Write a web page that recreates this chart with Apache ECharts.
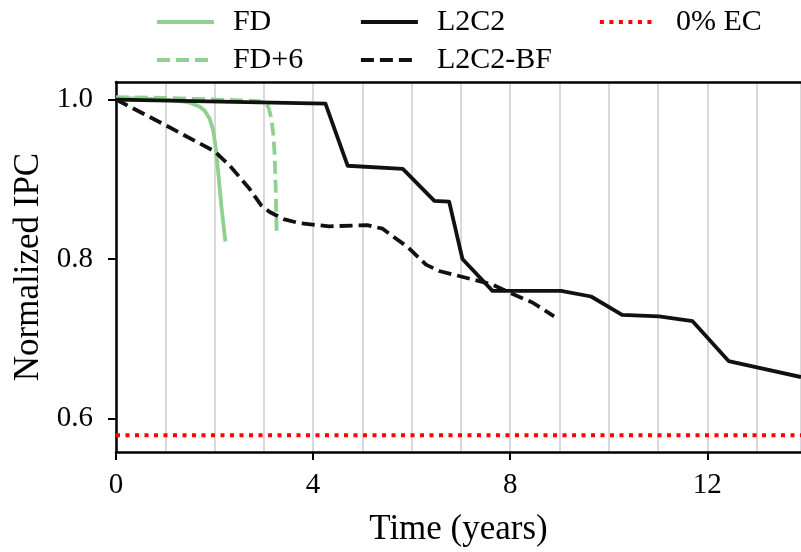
<!DOCTYPE html>
<html><head><meta charset="utf-8">
<script src="https://cdn.jsdelivr.net/npm/echarts@6/dist/echarts.min.js"></script>
<style>html,body{margin:0;padding:0;background:#fff}#c{width:801px;height:552px}</style>
</head><body><div id="c"></div>
<script>
// ---- data ----
const fdTime = [0, 0.5, 1.0, 1.3, 1.5, 1.7, 1.8, 1.9, 1.97, 2.03, 2.08, 2.14, 2.22];
const fdIPC  = [1.002, 1.001, 1.0, 0.998, 0.996, 0.991, 0.986, 0.976, 0.962, 0.937, 0.905, 0.865, 0.822];

const fd6Time = [0, 1.0, 2.0, 2.6, 2.9, 3.05, 3.1, 3.15, 3.19, 3.22, 3.24, 3.26];
const fd6IPC  = [1.003, 1.002, 1.0, 0.999, 0.998, 0.995, 0.989, 0.977, 0.958, 0.93, 0.89, 0.834];

const l2c2Time = [0, 4.25, 4.70, 5.82, 6.46, 6.76, 7.03, 7.64, 9.03, 9.64, 10.27, 11.02, 11.70, 12.43, 13.9];
const l2c2IPC  = [1.0, 0.995, 0.917, 0.913, 0.873, 0.872, 0.800, 0.760, 0.760, 0.753, 0.730, 0.728, 0.722, 0.672, 0.652];

const bfTime = [0, 1.0, 2.0, 2.31, 2.71, 2.95, 3.12, 3.4, 3.72, 4.33, 5.1, 5.41, 5.65, 5.92, 6.29, 6.56, 7.10, 7.64, 7.98, 8.45, 8.89];
const bfIPC  = [1.0, 0.968, 0.935, 0.917, 0.888, 0.867, 0.859, 0.850, 0.845, 0.841, 0.8425, 0.838, 0.827, 0.815, 0.793, 0.785, 0.7765, 0.768, 0.758, 0.7455, 0.728];

const ecTime = [0, 13.9];
const ecIPC  = [0.579, 0.579];

const xTicks = [0, 4, 8, 12];
const yTicks = [0.6, 0.8, 1.0];
const xMin = 0, xMax = 13.9, yMin = 0.558, yMax = 1.022;

// ---- chart ----
const FONT = '"Liberation Serif", "DejaVu Serif", serif';
const GREEN = '#90d090';
const BLACK = '#111111';
const zip = (a, b) => a.map((v, i) => [v, b[i]]);

function lineSeries(name, t, v, color, type, width) {
  return {
    name, type: 'line', data: zip(t, v), symbol: 'none', showSymbol: false,
    animation: false, silent: true,
    lineStyle: { color, width, type, cap: 'butt', join: 'round' },
    itemStyle: { color }
  };
}

const legendText = { fontSize: 30, fontFamily: FONT, color: '#000', padding: [0, 0, 0, 14] };
function legend(left, names) {
  return {
    left, top: 2, orient: 'vertical', data: names,
    itemWidth: 57, itemHeight: 14, itemGap: 8,
    selectedMode: false, textStyle: legendText,
    itemStyle: { opacity: 0 },
    lineStyle: { width: 3.8 }
  };
}

const chart = echarts.init(document.getElementById('c'), null, { renderer: 'canvas' });
chart.setOption({
  animation: false,
  backgroundColor: '#fff',
  grid: { left: 116, top: 82, width: 686, height: 375, containLabel: false },
  legend: [
    legend(150, ['FD', 'FD+6']),
    legend(354, ['L2C2', 'L2C2-BF']),
    legend(593, ['0% EC'])
  ],
  xAxis: [{
    type: 'value', position: 'bottom', min: xMin, max: xMax,
    axisLine: { show: true, onZero: false, lineStyle: { color: '#000', width: 2.5 } },
    axisTick: { show: true, customValues: xTicks, length: 8, lineStyle: { color: '#000', width: 2 } },
    axisLabel: { customValues: xTicks, fontSize: 29, fontFamily: FONT, color: '#000', margin: 19 },
    splitLine: { show: false },
    name: 'Time (years)', nameLocation: 'middle', nameGap: 60,
    nameTextStyle: { fontSize: 35, fontFamily: FONT, color: '#000' }
  }, {
    type: 'value', position: 'top', min: xMin, max: xMax, interval: 1,
    axisLine: { show: true, onZero: false, lineStyle: { color: '#000', width: 2.5 } },
    axisTick: { show: false }, axisLabel: { show: false },
    splitLine: { show: true, lineStyle: { color: '#cccccc', width: 1.5 } }
  }],
  yAxis: {
    type: 'value', min: yMin, max: yMax,
    axisLine: { show: true, onZero: false, lineStyle: { color: '#000', width: 2.5 } },
    axisTick: { show: true, customValues: yTicks, length: 8, lineStyle: { color: '#000', width: 2 } },
    axisLabel: { customValues: yTicks, fontSize: 29, fontFamily: FONT, color: '#000', margin: 23,
                 formatter: v => v.toFixed(1) },
    splitLine: { show: false },
    name: 'Normalized IPC', nameLocation: 'middle', nameGap: 69, nameRotate: 90,
    nameTextStyle: { fontSize: 35, fontFamily: FONT, color: '#000' }
  },
  series: [
    lineSeries('FD', fdTime, fdIPC, GREEN, 'solid', 3.8),
    lineSeries('FD+6', fd6Time, fd6IPC, GREEN, [13, 6], 3.8),
    lineSeries('L2C2', l2c2Time, l2c2IPC, BLACK, 'solid', 3.8),
    lineSeries('L2C2-BF', bfTime, bfIPC, BLACK, [13, 6], 3.8),
    lineSeries('0% EC', ecTime, ecIPC, '#ff0000', [4, 5.5], 4)
  ]
});
</script></body></html>
